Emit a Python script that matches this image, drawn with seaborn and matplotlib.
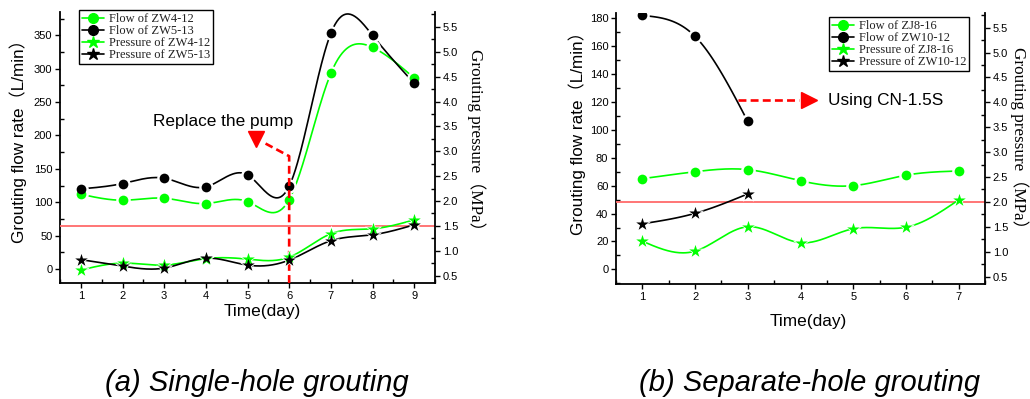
import numpy as np
import pandas as pd
import matplotlib
matplotlib.use("Agg")
import matplotlib.pyplot as plt
import seaborn as sns
from matplotlib.lines import Line2D
from matplotlib.ticker import MultipleLocator

# ---- (a) single-hole grouting ----
days_a = [1, 2, 3, 4, 5, 6, 7, 8, 9]
flow_zw4_12 = [112, 103, 106, 98, 101, 104, 293, 332, 286]
flow_zw5_13 = [120, 128, 136, 123, 141, 124, 353, 350, 278]
pres_zw4_12 = [0.61, 0.75, 0.71, 0.84, 0.83, 0.87, 1.34, 1.44, 1.62]
pres_zw5_13 = [0.82, 0.69, 0.65, 0.85, 0.71, 0.81, 1.20, 1.32, 1.52]
limit_a = 1.5

# ---- (b) separate-hole grouting ----
days_b = [1, 2, 3, 4, 5, 6, 7]
days_b_short = [1, 2, 3]
flow_zj8_16 = [65, 70, 71.5, 63.5, 60, 67.5, 70.5]
flow_zw10_12 = [182, 167, 106]
pres_zj8_16 = [1.21, 1.01, 1.50, 1.18, 1.46, 1.49, 2.04]
pres_zw10_12 = [1.56, 1.77, 2.16]
limit_b = 2.0

GREEN = "#00ff00"
BLACK = "#000000"
RED = "#ff0000"
LIMIT_RED = "#ff6a6a"

sns.set_theme(style="ticks")
plt.rcParams["font.family"] = ["Liberation Sans", "Noto Sans CJK SC"]
plt.rcParams["axes.linewidth"] = 1.3
for key in ("text.color", "axes.labelcolor", "xtick.color", "ytick.color",
            "axes.edgecolor"):
    plt.rcParams[key] = "black"


def natural_spline(x, y, n=40):
    """Natural cubic spline through the points, used for the smooth connectors."""
    x = np.asarray(x, float)
    y = np.asarray(y, float)
    k = len(x)
    h = np.diff(x)
    A = np.zeros((k, k))
    r = np.zeros(k)
    A[0, 0] = A[-1, -1] = 1.0
    for i in range(1, k - 1):
        A[i, i - 1] = h[i - 1]
        A[i, i] = 2 * (h[i - 1] + h[i])
        A[i, i + 1] = h[i]
        r[i] = 3 * ((y[i + 1] - y[i]) / h[i] - (y[i] - y[i - 1]) / h[i - 1])
    c = np.linalg.solve(A, r)
    b = (y[1:] - y[:-1]) / h - h * (2 * c[:-1] + c[1:]) / 3
    d = (c[1:] - c[:-1]) / (3 * h)
    xs, ys = [], []
    for i in range(k - 1):
        t = np.linspace(0, h[i], n, endpoint=(i == k - 2))
        xs.append(x[i] + t)
        ys.append(y[i] + b[i] * t + c[i] * t ** 2 + d[i] * t ** 3)
    return np.concatenate(xs), np.concatenate(ys)


def draw_series(ax, x, y, color, marker, size):
    sx, sy = natural_spline(x, y)
    sns.lineplot(x=sx, y=sy, ax=ax, color=color, lw=1.2, sort=False,
                 estimator=None, zorder=2)
    # white halo leaves a small gap between the curve and each symbol
    sns.scatterplot(x=x, y=y, ax=ax, marker=marker, s=(size + 3.5) ** 2,
                    color="white", linewidth=0, zorder=3)
    sns.scatterplot(x=x, y=y, ax=ax, marker=marker, s=size ** 2,
                    color=color, linewidth=0, zorder=4)


def style_axes(ax, ax2, xmax, ylim, ystep, ymin_tick, ymax_tick):
    ax.set_xlim(0.5, xmax + 0.5)
    ax.set_ylim(*ylim)
    ax2.set_ylim(0.35, 5.8)
    ax.set_xticks(range(1, xmax + 1))
    ax.xaxis.set_minor_locator(MultipleLocator(0.5))
    ax.set_yticks(np.arange(ymin_tick, ymax_tick + 1, ystep))
    ax.yaxis.set_minor_locator(MultipleLocator(ystep / 2))
    ax2.set_yticks(np.arange(0.5, 5.51, 0.5))
    ax2.yaxis.set_minor_locator(MultipleLocator(0.25))
    ax2.set_yticklabels([f"{v:.1f}" for v in np.arange(0.5, 5.51, 0.5)])
    for a in (ax, ax2):
        a.tick_params(which="major", direction="out", length=3.5, width=1.0,
                      labelsize=8, pad=2, colors="black")
        a.tick_params(which="minor", direction="in", length=3, width=1.0)
        a.set_xlabel("")
        a.set_ylabel("")
        a.grid(False)
    ax.spines["top"].set_visible(False)
    ax.spines["right"].set_visible(False)
    for s in ("top", "left", "bottom"):
        ax2.spines[s].set_visible(False)
    ax.set_facecolor("white")
    ax2.patch.set_visible(False)


def legend_handles(names):
    specs = [(GREEN, "o", 7), (BLACK, "o", 7), (GREEN, "*", 9), (BLACK, "*", 9)]
    return [Line2D([], [], color=c, marker=m, ms=s, lw=1.2, label=n)
            for (c, m, s), n in zip(specs, names)]


def add_legend(ax, names, anchor):
    leg = ax.legend(handles=legend_handles(names), loc="upper left",
                    bbox_to_anchor=anchor, borderaxespad=0,
                    prop={"family": "Liberation Serif", "size": 9},
                    labelcolor="#222222", frameon=True, fancybox=False,
                    framealpha=1, edgecolor="black", borderpad=0.25,
                    labelspacing=0.0, handlelength=1.8, handletextpad=0.35)
    leg.get_frame().set_linewidth(1.0)
    leg.set_zorder(10)


fig = plt.figure(figsize=(10.3, 3.99), dpi=100)
fig.patch.set_facecolor("white")
W, H = 1030, 399

# ================= panel (a) =================
axA = fig.add_axes([60 / W, (H - 283) / H, 375 / W, 271 / H])
axA2 = axA.twinx()

draw_series(axA, days_a, flow_zw4_12, GREEN, "o", 7)
draw_series(axA, days_a, flow_zw5_13, BLACK, "o", 7)
draw_series(axA2, days_a, pres_zw4_12, GREEN, "*", 9.5)
draw_series(axA2, days_a, pres_zw5_13, BLACK, "*", 9.5)
axA2.axhline(limit_a, color=LIMIT_RED, lw=1.3, zorder=1)

style_axes(axA, axA2, 9, (-21, 385), 50, 0, 350)

# pump replacement marker: dashed path up from day 6 to a red head
pump_day = 6
pump_path_x = [pump_day, pump_day, 5.37]
pump_path_y = [-21, 169, 190]
axA.plot(pump_path_x, pump_path_y, color=RED, lw=1.9, dashes=(3, 1.6),
         zorder=5, clip_on=False)
axA.plot([5.2], [195], marker="v", ms=11, color=RED, ls="none", zorder=5)
axA.text(4.41, 221, "Replace the pump", fontsize=12.4, ha="center",
         va="center")

add_legend(axA, ["Flow of ZW4-12", "Flow of ZW5-13",
                 "Pressure of ZW4-12", "Pressure of ZW5-13"], (0.05, 1.008))

axA.text(0.539, -0.105, "Time(day)", transform=axA.transAxes, fontsize=12.4,
         ha="center", va="center")
axA.text(-0.111, 0.537, "Grouting flow rate（L/min）", transform=axA.transAxes,
         fontsize=12.3, ha="center", va="center", rotation=90)
axA.text(1.109, 0.515, "Grouting pressure（MPa）", transform=axA.transAxes,
         fontsize=12.3, ha="center", va="center", rotation=270,
         family=["Liberation Serif", "Noto Sans CJK SC"])

# ================= panel (b) =================
axB = fig.add_axes([616 / W, (H - 284) / H, 369 / W, 271.3 / H])
axB2 = axB.twinx()

draw_series(axB, days_b, flow_zj8_16, GREEN, "o", 7)
draw_series(axB, days_b_short, flow_zw10_12, BLACK, "o", 7)
draw_series(axB2, days_b, pres_zj8_16, GREEN, "*", 9.5)
draw_series(axB2, days_b_short, pres_zw10_12, BLACK, "*", 9.5)
axB2.axhline(limit_b, color=LIMIT_RED, lw=1.3, zorder=1)

style_axes(axB, axB2, 7, (-10.5, 184), 20, 0, 180)

switch_y = 121.4
axB.plot([2.82, 3.98], [switch_y, switch_y], color=RED, lw=1.9,
         dashes=(3, 1.6), zorder=5)
axB.plot([4.16], [switch_y], marker=">", ms=12, color=RED, ls="none", zorder=5)
axB.text(4.52, switch_y, "Using CN-1.5S", fontsize=12.4, ha="left",
         va="center")

add_legend(axB, ["Flow of ZJ8-16", "Flow of ZW10-12",
                 "Pressure of ZJ8-16", "Pressure of ZW10-12"], (0.576, 0.985))

axB.text(0.520, -0.14, "Time(day)", transform=axB.transAxes, fontsize=12.4,
         ha="center", va="center")
axB.text(-0.1065, 0.571, "Grouting flow rate（L/min）", transform=axB.transAxes,
         fontsize=12.3, ha="center", va="center", rotation=90)
axB.text(1.093, 0.524, "Grouting pressure（MPa）", transform=axB.transAxes,
         fontsize=12.3, ha="center", va="center", rotation=270,
         family=["Liberation Serif", "Noto Sans CJK SC"])

# ---- captions ----
fig.text(256.7 / W, 1 - 383 / H, "(a) Single-hole grouting", fontsize=21,
         style="italic", ha="center", va="center")
fig.text(810 / W, 1 - 383 / H, "(b) Separate-hole grouting", fontsize=21,
         style="italic", ha="center", va="center")

fig.savefig("out.png", dpi=100, facecolor="white")
